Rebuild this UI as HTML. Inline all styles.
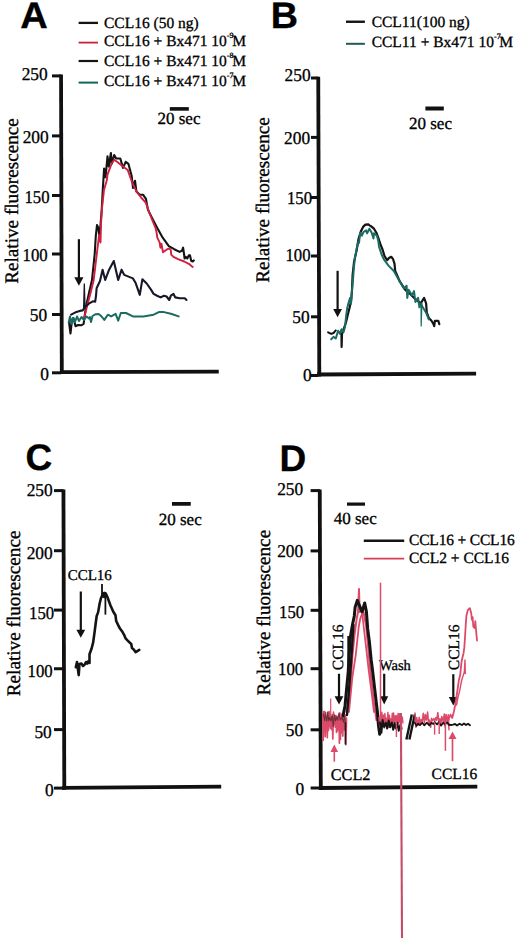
<!DOCTYPE html>
<html><head><meta charset="utf-8"><title>Figure</title>
<style>html,body{margin:0;padding:0;background:#fff;}svg{display:block;} text{text-rendering:geometricPrecision;stroke:#000;stroke-width:0.32px;fill:#000;}</style></head>
<body><svg width="520" height="944" viewBox="0 0 520 944">
<rect width="520" height="944" fill="#ffffff"/>
<text transform="translate(20.3,28) scale(1.03,1)" x="0" y="0" font-family='"Liberation Sans", sans-serif' font-size="37" font-weight="bold">A</text>
<line x1="78.6" y1="22.9" x2="98" y2="22.9" stroke="#141414" stroke-width="2.3" stroke-linecap="butt"/>
<line x1="78.6" y1="42.6" x2="98" y2="42.6" stroke="#c8203c" stroke-width="1.8" stroke-linecap="butt"/>
<line x1="78.6" y1="61" x2="98" y2="61" stroke="#141414" stroke-width="2.2" stroke-linecap="butt"/>
<line x1="78.6" y1="82.6" x2="98" y2="82.6" stroke="#0f6658" stroke-width="2.0" stroke-linecap="butt"/>
<text x="104" y="27.5" font-family='"Liberation Serif", serif' font-size="15.5" font-weight="normal" text-anchor="start" >CCL16 (50 ng)</text>
<text x="104" y="45.8" font-family='"Liberation Serif", serif' font-size="15.5" font-weight="normal" text-anchor="start" >CCL16 + Bx471 10<tspan font-size="8" dy="-8">-9</tspan><tspan dy="8" dx="-1.4">M</tspan></text>
<text x="104" y="65.6" font-family='"Liberation Serif", serif' font-size="15.5" font-weight="normal" text-anchor="start" >CCL16 + Bx471 10<tspan font-size="8" dy="-8">-8</tspan><tspan dy="8" dx="-1.4">M</tspan></text>
<text x="104" y="85.8" font-family='"Liberation Serif", serif' font-size="15.5" font-weight="normal" text-anchor="start" >CCL16 + Bx471 10<tspan font-size="8" dy="-8">-7</tspan><tspan dy="8" dx="-1.4">M</tspan></text>
<polygon points="59.15,74.6 62.949999999999996,74.6 63.699999999999996,374.0 59.9,374.0" fill="#111"/>
<line x1="52" y1="75.9" x2="61.05" y2="75.9" stroke="#111" stroke-width="3" stroke-linecap="butt"/>
<line x1="52" y1="135.9" x2="61.05" y2="135.9" stroke="#111" stroke-width="3" stroke-linecap="butt"/>
<line x1="52" y1="195.5" x2="61.05" y2="195.5" stroke="#111" stroke-width="3" stroke-linecap="butt"/>
<line x1="52" y1="254" x2="61.05" y2="254" stroke="#111" stroke-width="3" stroke-linecap="butt"/>
<line x1="52" y1="314.5" x2="61.05" y2="314.5" stroke="#111" stroke-width="3" stroke-linecap="butt"/>
<line x1="52" y1="372.8" x2="61.05" y2="372.8" stroke="#111" stroke-width="3" stroke-linecap="butt"/>
<text transform="translate(47.7,80.4) scale(0.965,1)" x="0" y="0" font-family='"Liberation Serif", serif' font-size="18" text-anchor="end">250</text>
<text transform="translate(48.7,142.79999999999998) scale(0.965,1)" x="0" y="0" font-family='"Liberation Serif", serif' font-size="18" text-anchor="end">200</text>
<text transform="translate(49.6,202.89999999999998) scale(0.93,1)" x="0" y="0" font-family='"Liberation Serif", serif' font-size="18" text-anchor="end">150</text>
<text transform="translate(47.7,260.9) scale(0.93,1)" x="0" y="0" font-family='"Liberation Serif", serif' font-size="18" text-anchor="end">100</text>
<text transform="translate(47.2,321.0) scale(0.965,1)" x="0" y="0" font-family='"Liberation Serif", serif' font-size="18" text-anchor="end">50</text>
<text transform="translate(49.0,379.7) scale(0.965,1)" x="0" y="0" font-family='"Liberation Serif", serif' font-size="18" text-anchor="end">0</text>
<polygon points="60.5,370.20000000000005 218.75,369.8 218.75,373.59999999999997 60.5,374.0" fill="#111"/>
<text x="0" y="0" transform="translate(18,201) rotate(-90)" font-family='"Liberation Serif", serif' font-size="19.2" text-anchor="middle">Relative fluorescence</text>
<rect x="169.8" y="107.1" width="19" height="3.6" fill="#111"/>
<text x="157.5" y="124.4" font-family='"Liberation Serif", serif' font-size="17" font-weight="normal" text-anchor="start" >20 sec</text>
<line x1="78.9" y1="239.2" x2="78.9" y2="278.3" stroke="#111" stroke-width="2.2" stroke-linecap="butt"/>
<polygon points="74.30000000000001,277.3 83.5,277.3 78.9,285.8" fill="#111"/>
<polyline points="69.0,322.0 70.5,333.5 72.0,320.0 73.5,318.0 75.5,326.2 78.0,325.0 81.2,325.3 83.6,323.8 86.0,306.5 89.4,291.2 92.0,280.0 94.7,254.0 95.8,236.0 97.0,225.0 98.3,228.0 99.4,236.0 100.5,225.0 101.6,211.8 102.8,189.4 104.1,168.5 105.5,177.3 107.5,156.4 108.8,166.5 110.9,153.0 111.8,163.8 114.2,155.0 116.2,158.5 120.3,158.5 123.0,167.9 125.7,161.8 128.4,163.8 131.7,176.0 133.0,188.0 135.0,180.7 136.4,191.4 139.8,194.8 143.2,194.8 145.9,198.8 147.9,209.6 153.3,220.4 157.3,228.0 162.7,237.7 168.8,246.2 174.2,249.2 179.6,251.9 181.9,250.8 183.1,247.7 183.8,252.3 184.6,258.5 185.8,256.9 187.3,258.5 188.8,255.4 190.0,255.4 191.2,260.8 192.7,261.5 193.8,260.4" fill="none" stroke="#141414" stroke-width="2.1" stroke-linejoin="round" stroke-linecap="round" opacity="1"/>
<polyline points="84.1,318.0 87.0,306.5 90.8,292.0 93.7,280.0 96.8,254.0 98.5,240.0 99.0,235.0 100.5,242.5 101.0,225.0 101.6,211.8 104.0,190.0 106.9,180.0 107.5,174.6 111.5,163.8 114.2,159.8 117.0,161.8 122.3,165.9 127.7,169.9 131.7,181.3 136.4,191.4 141.1,197.5 145.9,202.9 149.2,212.3 153.0,222.0 155.5,228.0 156.5,232.0 157.3,237.7 159.6,242.3 160.4,247.7 161.5,243.8 163.0,252.3 165.0,250.8 167.3,249.2 169.6,248.5 170.8,250.0 171.2,254.6 173.5,256.9 178.0,259.2 184.2,261.5 188.8,263.8 192.7,266.9" fill="none" stroke="#cf2040" stroke-width="1.9" stroke-linejoin="round" stroke-linecap="round" opacity="1"/>
<polyline points="71.1,314.7 75.5,312.3 79.8,310.9 82.7,310.4 84.3,308.0 85.6,306.5 88.9,303.7 92.8,301.3 95.2,301.7 96.1,295.0 96.6,288.3 100.0,281.0 102.6,269.7 105.2,280.0 108.7,270.6 113.8,261.0 118.2,280.0 121.6,269.7 124.2,274.9 132.9,278.4 135.5,282.7 139.8,294.8 142.4,279.2 146.7,283.5 151.0,289.6 153.6,293.9 157.1,295.7 160.6,297.4 164.0,295.7 166.6,296.5 169.2,300.0 170.9,295.7 173.5,293.9 175.3,297.4 179.6,298.3 184.8,298.3 186.5,300.0" fill="none" stroke="#17172a" stroke-width="2.1" stroke-linejoin="round" stroke-linecap="round" opacity="1"/>
<polyline points="83.6,309.0 84.3,284.0 85.0,307.0" fill="none" stroke="#17172a" stroke-width="1.3" stroke-linejoin="round" stroke-linecap="round" opacity="1"/>
<polyline points="68.7,322.4 70.0,316.5 71.5,324.0 73.0,318.0 75.0,322.0 77.0,316.5 79.0,321.0 81.5,317.0 84.0,320.0 86.5,316.5 89.0,318.5 89.9,317.0 91.0,322.0 92.5,316.0 95.7,314.2 98.5,314.0 100.0,315.0 102.0,317.0 104.3,319.9 107.8,314.7 111.2,316.4 115.6,313.8 118.2,320.7 120.8,313.0 126.0,313.0 132.9,316.4 143.3,316.4 153.6,314.7 158.8,312.1 164.0,312.1 170.9,313.8 178.7,316.4" fill="none" stroke="#1a6b62" stroke-width="2.0" stroke-linejoin="round" stroke-linecap="round" opacity="1"/>
<text transform="translate(270.8,27.5) scale(1.02,1)" x="0" y="0" font-family='"Liberation Sans", sans-serif' font-size="37" font-weight="bold">B</text>
<line x1="346" y1="21.75" x2="364.9" y2="21.75" stroke="#141414" stroke-width="2.4" stroke-linecap="butt"/>
<line x1="346" y1="43.8" x2="364.9" y2="43.8" stroke="#1f5a55" stroke-width="2.0" stroke-linecap="butt"/>
<text x="371.7" y="26.5" font-family='"Liberation Serif", serif' font-size="15.5" font-weight="normal" text-anchor="start" >CCL11(100 ng)</text>
<text x="371.7" y="47" font-family='"Liberation Serif", serif' font-size="15.5" font-weight="normal" text-anchor="start" >CCL11 + Bx471 10<tspan font-size="8" dy="-8">-7</tspan><tspan dy="8" dx="-1.4">M</tspan></text>
<polygon points="316.35,76.8 320.15,76.8 321.2,376.4 317.40000000000003,376.4" fill="#111"/>
<line x1="311" y1="78" x2="318.25" y2="78" stroke="#111" stroke-width="3" stroke-linecap="butt"/>
<line x1="311" y1="137.4" x2="318.25" y2="137.4" stroke="#111" stroke-width="3" stroke-linecap="butt"/>
<line x1="311" y1="197.5" x2="318.25" y2="197.5" stroke="#111" stroke-width="3" stroke-linecap="butt"/>
<line x1="311" y1="256" x2="318.25" y2="256" stroke="#111" stroke-width="3" stroke-linecap="butt"/>
<line x1="311" y1="316.8" x2="318.25" y2="316.8" stroke="#111" stroke-width="3" stroke-linecap="butt"/>
<line x1="311" y1="375.5" x2="318.25" y2="375.5" stroke="#111" stroke-width="3" stroke-linecap="butt"/>
<text transform="translate(310.6,81.2) scale(0.965,1)" x="0" y="0" font-family='"Liberation Serif", serif' font-size="18" text-anchor="end">250</text>
<text transform="translate(310.1,143.89999999999998) scale(0.965,1)" x="0" y="0" font-family='"Liberation Serif", serif' font-size="18" text-anchor="end">200</text>
<text transform="translate(312.0,203.79999999999998) scale(0.93,1)" x="0" y="0" font-family='"Liberation Serif", serif' font-size="18" text-anchor="end">150</text>
<text transform="translate(310.6,261.45) scale(0.93,1)" x="0" y="0" font-family='"Liberation Serif", serif' font-size="18" text-anchor="end">100</text>
<text transform="translate(309.6,322.8) scale(0.965,1)" x="0" y="0" font-family='"Liberation Serif", serif' font-size="18" text-anchor="end">50</text>
<text transform="translate(311.6,381.0) scale(0.965,1)" x="0" y="0" font-family='"Liberation Serif", serif' font-size="18" text-anchor="end">0</text>
<polygon points="317,372.6 476.1,371.8 476.1,375.59999999999997 317,376.4" fill="#111"/>
<text x="0" y="0" transform="translate(269,200) rotate(-90)" font-family='"Liberation Serif", serif' font-size="19.2" text-anchor="middle">Relative fluorescence</text>
<rect x="425.4" y="106.5" width="18.4" height="4" fill="#111"/>
<text x="409" y="129" font-family='"Liberation Serif", serif' font-size="17" font-weight="normal" text-anchor="start" >20 sec</text>
<line x1="337.6" y1="270.8" x2="337.6" y2="310" stroke="#111" stroke-width="2.2" stroke-linecap="butt"/>
<polygon points="333.20000000000005,309 342.0,309 337.6,317.2" fill="#111"/>
<polyline points="340.0,333.0 341.5,334.6 341.6,346.9 342.0,334.0 344.0,328.0 345.8,323.0 347.5,316.0 349.5,308.0 351.2,300.0 352.0,290.0 352.6,275.0 354.0,262.0 356.7,250.0 358.5,239.0 360.8,231.5 363.1,226.9 365.4,224.6 368.3,224.3 370.0,225.8 371.2,226.3 374.0,228.7 376.4,232.7 378.7,239.0 380.4,244.2 382.7,250.0 384.5,256.0 387.1,260.2 389.0,258.0 391.2,256.8 393.0,259.0 394.5,263.6 395.2,271.0 399.9,281.7 405.3,289.8 410.0,293.8 415.4,299.2 420.8,303.3 424.1,297.9 426.1,303.3 426.8,312.7 428.8,318.0 431.5,320.8 433.5,324.1 434.2,326.1 434.9,320.8 438.3,320.8 439.3,324.1" fill="none" stroke="#141414" stroke-width="2.2" stroke-linejoin="round" stroke-linecap="round" opacity="1"/>
<polyline points="328.1,332.3 331.2,333.9 333.5,333.0 335.8,330.4" fill="none" stroke="#141414" stroke-width="2.0" stroke-linejoin="round" stroke-linecap="round" opacity="1"/>
<polyline points="331.2,339.2 333.5,336.9 335.8,338.5 338.1,330.8 340.0,333.8 341.5,329.2 343.5,332.3 345.0,326.9 346.2,315.4 347.3,307.7 348.5,303.0 350.0,298.0 351.0,304.0 352.0,290.0 353.0,280.0 353.6,270.8 354.9,258.0 356.8,248.0 358.2,242.0 359.0,243.0 360.2,232.7 361.9,235.6 363.5,232.0 366.0,230.4 367.1,233.3 369.4,228.7 371.7,232.7 373.5,238.5 374.0,233.3 376.9,235.6 378.4,241.6 379.0,246.7 381.7,254.8 384.4,260.2 388.5,265.6 393.8,271.0 399.2,280.4 403.9,288.5 406.6,285.8 407.3,297.9 408.6,289.8 412.0,295.2 414.0,291.1 415.4,301.9 418.1,297.9 419.4,307.3 421.4,303.3 422.0,306.0 422.8,307.3 426.1,312.7 428.8,319.4" fill="none" stroke="#1a6b62" stroke-width="2.0" stroke-linejoin="round" stroke-linecap="round" opacity="1"/>
<polyline points="421.0,304.0 421.2,326.0 421.8,306.0" fill="none" stroke="#1a6b62" stroke-width="1.2" stroke-linejoin="round" stroke-linecap="round" opacity="1"/>
<text transform="translate(25.6,469.5) scale(1.0,1)" x="0" y="0" font-family='"Liberation Sans", sans-serif' font-size="37" font-weight="bold">C</text>
<polygon points="61.550000000000004,489.6 65.35000000000001,489.6 66.2,789.8 62.4,789.8" fill="#111"/>
<line x1="54" y1="490.6" x2="63.45" y2="490.6" stroke="#111" stroke-width="3" stroke-linecap="butt"/>
<line x1="54" y1="550.7" x2="63.45" y2="550.7" stroke="#111" stroke-width="3" stroke-linecap="butt"/>
<line x1="54" y1="610.1" x2="63.45" y2="610.1" stroke="#111" stroke-width="3" stroke-linecap="butt"/>
<line x1="54" y1="668.75" x2="63.45" y2="668.75" stroke="#111" stroke-width="3" stroke-linecap="butt"/>
<line x1="54" y1="729.6" x2="63.45" y2="729.6" stroke="#111" stroke-width="3" stroke-linecap="butt"/>
<line x1="54" y1="788.1" x2="63.45" y2="788.1" stroke="#111" stroke-width="3" stroke-linecap="butt"/>
<text transform="translate(52.7,496.09999999999997) scale(0.965,1)" x="0" y="0" font-family='"Liberation Serif", serif' font-size="18" text-anchor="end">250</text>
<text transform="translate(52.7,558.6) scale(0.965,1)" x="0" y="0" font-family='"Liberation Serif", serif' font-size="18" text-anchor="end">200</text>
<text transform="translate(54.15,618.95) scale(0.93,1)" x="0" y="0" font-family='"Liberation Serif", serif' font-size="18" text-anchor="end">150</text>
<text transform="translate(52.7,676.6) scale(0.93,1)" x="0" y="0" font-family='"Liberation Serif", serif' font-size="18" text-anchor="end">100</text>
<text transform="translate(51.75,737.8000000000001) scale(0.965,1)" x="0" y="0" font-family='"Liberation Serif", serif' font-size="18" text-anchor="end">50</text>
<text transform="translate(53.7,795.5) scale(0.965,1)" x="0" y="0" font-family='"Liberation Serif", serif' font-size="18" text-anchor="end">0</text>
<polygon points="62,786.0 221.2,784.8000000000001 221.2,788.6 62,789.8" fill="#111"/>
<text x="0" y="0" transform="translate(20.2,613.4) rotate(-90)" font-family='"Liberation Serif", serif' font-size="19.2" text-anchor="middle">Relative fluorescence</text>
<rect x="172" y="502" width="18.75" height="3.75" fill="#111"/>
<text x="158.75" y="525" font-family='"Liberation Serif", serif' font-size="17" font-weight="normal" text-anchor="start" >20 sec</text>
<text x="67.7" y="579.6" font-family='"Liberation Serif", serif' font-size="15" font-weight="normal" text-anchor="start" >CCL16</text>
<line x1="80.8" y1="591.5" x2="80.8" y2="630.7" stroke="#111" stroke-width="2.2" stroke-linecap="butt"/>
<polygon points="76.39999999999999,629.7 85.2,629.7 80.8,637.7" fill="#111"/>
<line x1="102" y1="584" x2="102" y2="597" stroke="#111" stroke-width="1.8" stroke-linecap="butt"/>
<line x1="105.4" y1="595" x2="105.4" y2="614.6" stroke="#111" stroke-width="1.8" stroke-linecap="butt"/>
<polyline points="75.8,667.3 77.0,662.0 78.7,675.2 79.5,664.0 81.5,663.6 83.0,666.0 84.4,665.0 86.0,662.0 87.3,663.6 88.5,661.0 89.5,662.9 89.5,654.3 91.6,648.5 93.1,642.7 94.5,632.6 96.0,621.0 96.7,616.0 98.1,612.4 99.6,603.8 101.0,598.0 102.5,595.1 104.0,593.0 106.0,594.0 107.5,597.3 110.4,605.2 113.3,611.7 115.5,615.3 116.2,621.0 118.3,625.4 119.8,628.3 122.0,631.2 124.1,634.8 125.6,638.4 127.7,640.6 129.9,642.7 131.3,644.2 132.0,648.0 133.5,649.2 135.7,652.1 139.3,649.9" fill="none" stroke="#141414" stroke-width="2.6" stroke-linejoin="round" stroke-linecap="round" opacity="1"/>
<ellipse cx="104.5" cy="595" rx="2.6" ry="3.2" fill="#141414"/>
<text transform="translate(279.6,471.1) scale(1.0,1)" x="0" y="0" font-family='"Liberation Sans", sans-serif' font-size="37" font-weight="bold">D</text>
<polygon points="317.85,489.6 321.65,489.6 322.7,789.9 318.90000000000003,789.9" fill="#111"/>
<line x1="310.6" y1="490.6" x2="319.75" y2="490.6" stroke="#111" stroke-width="3" stroke-linecap="butt"/>
<line x1="310.6" y1="550.9" x2="319.75" y2="550.9" stroke="#111" stroke-width="3" stroke-linecap="butt"/>
<line x1="310.6" y1="610.3" x2="319.75" y2="610.3" stroke="#111" stroke-width="3" stroke-linecap="butt"/>
<line x1="310.6" y1="668.7" x2="319.75" y2="668.7" stroke="#111" stroke-width="3" stroke-linecap="butt"/>
<line x1="310.6" y1="729.8" x2="319.75" y2="729.8" stroke="#111" stroke-width="3" stroke-linecap="butt"/>
<line x1="310.6" y1="788" x2="319.75" y2="788" stroke="#111" stroke-width="3" stroke-linecap="butt"/>
<text transform="translate(303.2,495.0) scale(0.965,1)" x="0" y="0" font-family='"Liberation Serif", serif' font-size="18" text-anchor="end">250</text>
<text transform="translate(303.2,557.4000000000001) scale(0.965,1)" x="0" y="0" font-family='"Liberation Serif", serif' font-size="18" text-anchor="end">200</text>
<text transform="translate(304.2,617.7) scale(0.93,1)" x="0" y="0" font-family='"Liberation Serif", serif' font-size="18" text-anchor="end">150</text>
<text transform="translate(303.2,675.3000000000001) scale(0.93,1)" x="0" y="0" font-family='"Liberation Serif", serif' font-size="18" text-anchor="end">100</text>
<text transform="translate(303.2,736.4000000000001) scale(0.965,1)" x="0" y="0" font-family='"Liberation Serif", serif' font-size="18" text-anchor="end">50</text>
<text transform="translate(304.2,795.1) scale(0.965,1)" x="0" y="0" font-family='"Liberation Serif", serif' font-size="18" text-anchor="end">0</text>
<polygon points="319,786.1 477.3,784.7 477.3,788.5 319,789.9" fill="#111"/>
<text x="0" y="0" transform="translate(270.3,612.7) rotate(-90)" font-family='"Liberation Serif", serif' font-size="19.2" text-anchor="middle">Relative fluorescence</text>
<rect x="347" y="502.5" width="18" height="3.2" fill="#111"/>
<text x="333.75" y="523.75" font-family='"Liberation Serif", serif' font-size="17" font-weight="normal" text-anchor="start" >40 sec</text>
<line x1="363.8" y1="540.8" x2="404.2" y2="540.8" stroke="#141414" stroke-width="2.6" stroke-linecap="butt"/>
<line x1="363.8" y1="558.7" x2="404.2" y2="558.7" stroke="#d83e58" stroke-width="1.7" stroke-linecap="butt"/>
<text x="409" y="545.2" font-family='"Liberation Serif", serif' font-size="15.5" font-weight="normal" text-anchor="start" letter-spacing="-0.17">CCL16 + CCL16</text>
<text x="409" y="563" font-family='"Liberation Serif", serif' font-size="15.5" font-weight="normal" text-anchor="start" >CCL2 + CCL16</text>
<text x="0" y="0" transform="translate(342.6,647.3) rotate(-90)" font-family='"Liberation Serif", serif' font-size="15.5" text-anchor="middle">CCL16</text>
<line x1="339" y1="673.75" x2="339" y2="697.2" stroke="#111" stroke-width="2.2" stroke-linecap="butt"/>
<polygon points="334.6,696.2 343.4,696.2 339,704.4" fill="#111"/>
<text x="379" y="670.4" font-family='"Liberation Serif", serif' font-size="14.5" font-weight="normal" text-anchor="start" >Wash</text>
<line x1="384.2" y1="673.75" x2="384.2" y2="697.2" stroke="#111" stroke-width="2.2" stroke-linecap="butt"/>
<polygon points="380.2,696.2 388.2,696.2 384.2,704.4" fill="#111"/>
<text x="0" y="0" transform="translate(459,647.3) rotate(-90)" font-family='"Liberation Serif", serif' font-size="15.5" text-anchor="middle">CCL16</text>
<line x1="453.3" y1="674.2" x2="453.3" y2="698" stroke="#111" stroke-width="2.2" stroke-linecap="butt"/>
<polygon points="448.8,697 457.8,697 453.3,705.5" fill="#111"/>
<line x1="334.3" y1="761.7" x2="334.3" y2="751" stroke="#dc4a6a" stroke-width="1.6" stroke-linecap="butt"/>
<polygon points="330.5,752 338.1,752 334.3,744.4" fill="#dc4a6a"/>
<text x="330.8" y="780" font-family='"Liberation Serif", serif' font-size="16.2" font-weight="normal" text-anchor="start" >CCL2</text>
<line x1="452.5" y1="761.2" x2="452.5" y2="737.9" stroke="#dc4a6a" stroke-width="1.7" stroke-linecap="butt"/>
<polygon points="448.5,738.9 456.5,738.9 452.5,731.5" fill="#dc4a6a"/>
<text x="431.6" y="779.2" font-family='"Liberation Serif", serif' font-size="15.5" font-weight="normal" text-anchor="start" >CCL16</text>
<polyline points="322.8,713.6 323.2,740.4 323.7,711.5 324.3,724.4 324.7,711.7 325.2,736.7 325.8,718.6 326.4,728.0 326.8,717.9 327.3,737.7 327.9,712.4 328.5,730.4 329.1,711.5 329.5,726.1 330.0,713.5 330.6,728.5 331.2,716.6 331.7,729.7 332.4,716.8 332.8,739.0 333.5,712.2 334.0,724.4 334.7,715.6 335.3,727.1 335.9,715.6 336.5,732.4 337.0,716.3 337.4,731.0 338.1,717.6 338.6,727.9 339.0,714.7 339.4,743.2 339.9,713.0 340.4,739.4 340.9,718.1 341.6,732.6 342.1,713.9 342.8,736.1 343.3,712.9 343.8,729.9 344.2,714.4 344.7,729.7 345.3,715.1 345.9,744.8 346.5,718.0" fill="none" stroke="#dc4a6a" stroke-width="1.7" stroke-linejoin="round" stroke-linecap="round" opacity="1"/>
<polyline points="323.5,714.4 324.7,720.8 325.7,712.4 326.8,721.3 327.7,712.0 328.7,720.8 329.7,717.2 331.1,721.2 332.2,714.2 333.2,726.8 334.5,714.9 335.5,720.8 336.6,717.0 337.6,720.2 339.0,712.9 340.3,720.2 342.0,717.2 343.4,722.1 344.5,716.6 345.8,726.2" fill="none" stroke="#5a2a30" stroke-width="1.1" stroke-linejoin="round" stroke-linecap="round" opacity="0.85"/>
<line x1="345.4" y1="722" x2="345.4" y2="744.5" stroke="#2a1416" stroke-width="1.6" stroke-linecap="butt"/>
<line x1="330.7" y1="698.5" x2="330.7" y2="716" stroke="#dc4a6a" stroke-width="1.2" stroke-linecap="butt"/>
<polyline points="346.5,712.0 349.0,700.0 350.8,680.0 352.5,655.0 354.5,635.0 356.5,620.0 358.0,612.0 359.0,589.0 359.6,612.0 361.0,610.0 363.5,612.0 366.0,625.0 368.0,645.0 370.0,668.0 372.5,690.0 373.9,702.7 375.4,712.3 376.5,720.0 378.5,716.0" fill="none" stroke="#dc4a6a" stroke-width="2.0" stroke-linejoin="round" stroke-linecap="round" opacity="1"/>
<polyline points="349.0,712.0 352.3,677.7 355.8,654.6 358.7,627.0 360.4,618.0 362.0,614.0 362.7,618.0 365.6,643.0 368.5,668.5 371.9,695.0 374.0,712.0" fill="none" stroke="#dc4a6a" stroke-width="1.8" stroke-linejoin="round" stroke-linecap="round" opacity="1"/>
<polyline points="376.0,700.0 377.5,712.0 379.0,722.0 380.5,728.0" fill="none" stroke="#dc4a6a" stroke-width="1.6" stroke-linejoin="round" stroke-linecap="round" opacity="1"/>
<polyline points="343.0,715.8 345.0,706.0 346.5,690.0 348.2,672.0 349.5,650.0 350.5,636.0 352.5,624.6 354.3,616.0 355.1,607.3 357.3,600.4 359.5,605.6 362.0,612.0 364.7,603.0 366.4,611.6 367.7,628.9 369.4,641.9 371.1,659.2 372.5,670.0 374.2,684.6 377.4,712.0 378.5,725.8 379.7,734.2" fill="none" stroke="#141414" stroke-width="3.0" stroke-linejoin="round" stroke-linecap="round" opacity="1"/>
<polyline points="347.0,715.0 349.0,690.0 351.2,660.0 352.5,640.0 353.5,625.0" fill="none" stroke="#141414" stroke-width="2.4" stroke-linejoin="round" stroke-linecap="round" opacity="1"/>
<line x1="348.4" y1="636" x2="348.4" y2="674" stroke="#141414" stroke-width="2.2" stroke-linecap="butt"/>
<line x1="380.5" y1="582.7" x2="380.5" y2="722" stroke="#dc4a6a" stroke-width="1.5" stroke-linecap="butt"/>
<polyline points="379.0,717.7 379.9,727.0 380.7,717.2 381.3,724.6 381.8,712.2 382.4,722.8 383.3,715.1 384.2,727.9 384.9,713.5 385.4,722.4 386.2,718.3 387.0,724.4 387.9,712.6 388.6,727.4 389.4,715.3 390.0,726.5 390.8,718.8 391.5,723.8 392.3,713.2 392.8,722.1 393.6,713.0 394.5,727.9 395.1,715.8 395.7,721.1 396.4,715.7 397.3,724.0 398.1,713.5 398.7,723.1 399.5,713.8 400.1,721.9 400.8,715.2 401.5,727.3" fill="none" stroke="#dc4a6a" stroke-width="1.5" stroke-linejoin="round" stroke-linecap="round" opacity="1"/>
<polyline points="380.0,722.5 381.4,732.8 382.6,720.0 384.2,726.9 385.8,722.8 387.1,728.6 388.7,720.5 390.1,727.2 391.8,722.5 393.2,729.8 394.6,723.1 396.0,728.6 397.3,722.7 398.7,730.7 400.4,724.7 401.6,728.8" fill="none" stroke="#141414" stroke-width="2.0" stroke-linejoin="round" stroke-linecap="round" opacity="1"/>
<line x1="396.4" y1="720" x2="396.4" y2="737" stroke="#dc4a6a" stroke-width="1.4" stroke-linecap="butt"/>
<line x1="400.9" y1="713" x2="402" y2="938" stroke="#c44c68" stroke-width="2.1" stroke-linecap="butt"/>
<line x1="406.4" y1="739.4" x2="411.8" y2="714.6" stroke="#141414" stroke-width="2.4" stroke-linecap="butt"/>
<line x1="409.4" y1="739.4" x2="414.8" y2="714.6" stroke="#141414" stroke-width="2.4" stroke-linecap="butt"/>
<polyline points="415.0,713.1 415.9,727.2 416.7,717.4 418.0,725.4 419.2,717.3 420.1,725.3 421.0,719.6 422.0,722.9 423.3,713.3 424.4,723.1 425.3,714.5 426.5,720.1 427.6,712.1 428.6,723.7 429.4,719.9 430.7,727.3 431.5,718.2 432.4,720.8 433.8,718.6 434.7,720.9 435.9,717.6 436.7,720.3 437.8,712.6 439.2,723.8 440.0,718.8 440.8,725.2 441.8,716.4 443.2,721.6 444.3,713.9 445.1,727.0 446.1,714.4 447.4,721.7 448.3,714.8 449.0,729.7" fill="none" stroke="#dc4a6a" stroke-width="1.5" stroke-linejoin="round" stroke-linecap="round" opacity="1"/>
<polyline points="414.5,722.4 416.5,725.9 418.0,723.6 419.9,725.0 422.3,722.8 424.3,725.4 426.9,722.7 429.3,725.4 431.5,722.8 433.3,724.1 434.8,722.1 437.1,724.5 438.7,722.2 441.1,725.7 443.3,722.6 445.0,724.6 447.0,722.3 448.9,724.5" fill="none" stroke="#141414" stroke-width="1.7" stroke-linejoin="round" stroke-linecap="round" opacity="1"/>
<line x1="434.6" y1="722" x2="434.6" y2="734.6" stroke="#dc4a6a" stroke-width="1.4" stroke-linecap="butt"/>
<line x1="439.2" y1="722" x2="439.2" y2="734" stroke="#dc4a6a" stroke-width="1.4" stroke-linecap="butt"/>
<polyline points="401.5,722.0 402.3,717.0 403.0,723.0" fill="none" stroke="#dc4a6a" stroke-width="1.4" stroke-linejoin="round" stroke-linecap="round" opacity="1"/>
<line x1="445.4" y1="722" x2="445.4" y2="750.8" stroke="#dc4a6a" stroke-width="1.5" stroke-linecap="butt"/>
<polyline points="448.5,724.6 451.0,725.0 453.0,724.6 455.0,724.0 457.0,725.5 459.5,723.8 462.0,725.0 464.0,723.5 466.0,725.0 468.0,723.8 470.0,725.2" fill="none" stroke="#141414" stroke-width="1.9" stroke-linejoin="round" stroke-linecap="round" opacity="1"/>
<polyline points="448.3,720.4 450.6,714.5 452.2,718.0 453.8,712.0 455.0,706.0 456.0,699.8 457.5,690.0 458.8,680.5 460.2,675.0 461.6,661.2 462.9,655.7 463.6,652.9 464.3,647.4 465.0,637.8 465.7,625.3 466.4,615.7 467.8,610.2 469.8,608.1 471.2,612.9 471.9,619.8 472.6,617.1 473.3,626.7 474.7,628.1 475.3,621.2 476.0,629.5 477.0,640.5" fill="none" stroke="#dc4a6a" stroke-width="1.8" stroke-linejoin="round" stroke-linecap="round" opacity="1"/>
<polyline points="456.5,705.0 458.0,697.0 459.5,691.6 461.6,680.5 463.0,676.0 464.3,672.2 465.0,660.0 465.3,673.6" fill="none" stroke="#dc4a6a" stroke-width="1.4" stroke-linejoin="round" stroke-linecap="round" opacity="1"/>
</svg></body></html>
